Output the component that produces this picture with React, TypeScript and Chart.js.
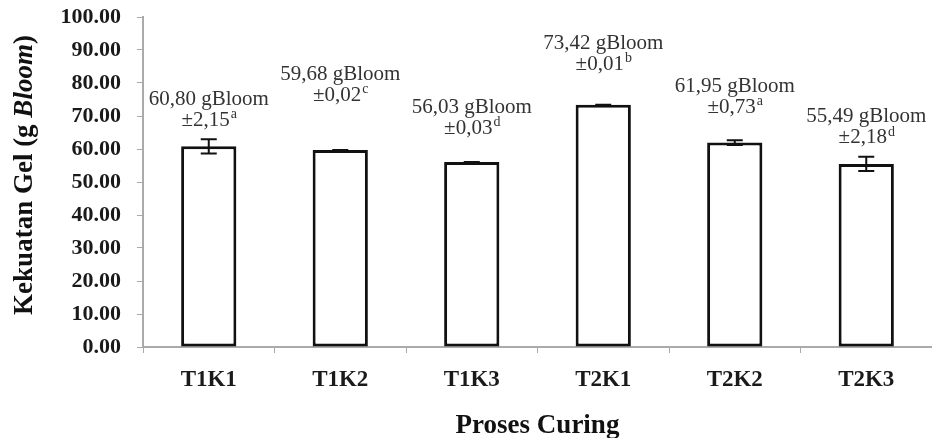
import React, { useEffect, useRef } from "react";
import { Chart, registerables } from "chart.js";

Chart.register(...registerables);

const categories = ["T1K1", "T1K2", "T1K3", "T2K1", "T2K2", "T2K3"];
const values = [60.8, 59.68, 56.03, 73.42, 61.95, 55.49];
const errors = [2.15, 0.02, 0.03, 0.01, 0.73, 2.18];
const letters = ["a", "c", "d", "b", "a", "d"];
const yTitleParts = [
  { text: "Kekuatan Gel (g ", italic: false },
  { text: "Bloom", italic: true },
  { text: ")", italic: false },
];
const xTitle = "Proses Curing";
const unit = "gBloom";

const SERIF = "'Liberation Serif', 'Times New Roman', serif";
const fmt = (v: number) => v.toFixed(2).replace(".", ",");

const annotPlugin = {
  id: "annot",
  afterDatasetsDraw(chart: any, _args: any, opts: any) {
    const ctx = chart.ctx as CanvasRenderingContext2D;
    const y = chart.scales.y;
    const meta = chart.getDatasetMeta(0);
    const lifts: number[] = opts.lifts;
    ctx.save();
    meta.data.forEach((bar: any, i: number) => {
      const x = bar.x;
      const v = values[i];
      const e = errors[i];
      // error bar
      const yHi = y.getPixelForValue(v + e);
      const yLo = y.getPixelForValue(v - e);
      ctx.strokeStyle = "#111";
      ctx.lineWidth = 2;
      ctx.beginPath();
      ctx.moveTo(x, yHi);
      ctx.lineTo(x, yLo);
      ctx.moveTo(x - 8, yHi);
      ctx.lineTo(x + 8, yHi);
      ctx.moveTo(x - 8, yLo);
      ctx.lineTo(x + 8, yLo);
      ctx.stroke();
      // labels
      const top = y.getPixelForValue(v);
      const l2 = top - lifts[i];
      const l1 = l2 - 21;
      ctx.fillStyle = "#333";
      ctx.textBaseline = "middle";
      ctx.textAlign = "center";
      ctx.font = `21px ${SERIF}`;
      ctx.fillText(`${fmt(v)} ${unit}`, x, l1);
      const s2 = `±${fmt(e)}`;
      const w2 = ctx.measureText(s2).width;
      ctx.font = `14px ${SERIF}`;
      const w3 = ctx.measureText(letters[i]).width;
      const startX = x - (w2 + w3) / 2;
      ctx.textAlign = "left";
      ctx.font = `21px ${SERIF}`;
      ctx.fillText(s2, startX, l2);
      ctx.font = `14px ${SERIF}`;
      ctx.fillText(letters[i], startX + w2 + 1, l2 - 6);
    });
    ctx.restore();
  },
  afterDraw(chart: any) {
    const ctx = chart.ctx as CanvasRenderingContext2D;
    const area = chart.chartArea;
    ctx.save();
    // y title
    ctx.fillStyle = "#111";
    ctx.textBaseline = "middle";
    ctx.translate(25, (area.top + area.bottom) / 2 - 7);
    ctx.rotate(-Math.PI / 2);
    const fonts = yTitleParts.map((p) => `${p.italic ? "italic " : ""}bold 27px ${SERIF}`);
    let total = 0;
    const widths = yTitleParts.map((p, i) => {
      ctx.font = fonts[i];
      const w = ctx.measureText(p.text).width;
      total += w;
      return w;
    });
    let cx = -total / 2;
    ctx.textAlign = "left";
    yTitleParts.forEach((p, i) => {
      ctx.font = fonts[i];
      ctx.fillText(p.text, cx, 0);
      cx += widths[i];
    });
    ctx.restore();
    // x title
    ctx.save();
    ctx.fillStyle = "#111";
    ctx.font = `bold 27px ${SERIF}`;
    ctx.textAlign = "center";
    ctx.textBaseline = "alphabetic";
    ctx.fillText(xTitle, (area.left + area.right) / 2, 433);
    ctx.restore();
  },
};

export default function App() {
  const ref = useRef<HTMLCanvasElement | null>(null);
  useEffect(() => {
    if (!ref.current) return;
    const chart = new Chart(ref.current, {
      type: "bar",
      data: {
        labels: categories,
        datasets: [
          {
            data: values,
            backgroundColor: "#ffffff",
            borderColor: "#111111",
            borderWidth: 3,
            borderSkipped: false,
            barPercentage: 0.42,
            categoryPercentage: 1,
          },
        ],
      },
      options: {
        animation: false,
        responsive: true,
        maintainAspectRatio: false,
        layout: { padding: { left: 0, right: 0, top: 17, bottom: 0 } },
        plugins: {
          legend: { display: false },
          tooltip: { enabled: false },
          annot: { lifts: [26, 55, 34, 40, 35, 26] },
        } as any,
        scales: {
          x: {
            grid: {
              offset: true,
              drawOnChartArea: false,
              drawTicks: true,
              tickLength: 6,
              color: "#aaaaaa",
            },
            border: { color: "#aaaaaa", width: 2 },
            ticks: {
              color: "#1a1a1a",
              padding: 13,
              font: { family: SERIF, size: 23, weight: "bold" },
            },
            afterFit: (s: any) => {
              s.height = 91;
              s.paddingLeft = 0;
              s.paddingRight = 0;
            },
          },
          y: {
            min: 0,
            max: 100,
            grid: {
              drawOnChartArea: false,
              drawTicks: true,
              tickLength: 6,
              color: "#aaaaaa",
            },
            border: { color: "#aaaaaa", width: 2 },
            ticks: {
              stepSize: 10,
              color: "#1a1a1a",
              padding: 16,
              font: { family: SERIF, size: 22, weight: "bold" },
              callback: (v: any) => Number(v).toFixed(2),
            },
            afterFit: (s: any) => {
              s.width = 143;
              s.paddingTop = 0;
              s.paddingBottom = 0;
            },
          },
        },
      },
      plugins: [annotPlugin],
    });
    return () => chart.destroy();
  }, []);
  return (
    <div style={{ position: "fixed", left: 0, top: 0, width: 932, height: 438, background: "#fff" }}>
      <canvas ref={ref} />
    </div>
  );
}
